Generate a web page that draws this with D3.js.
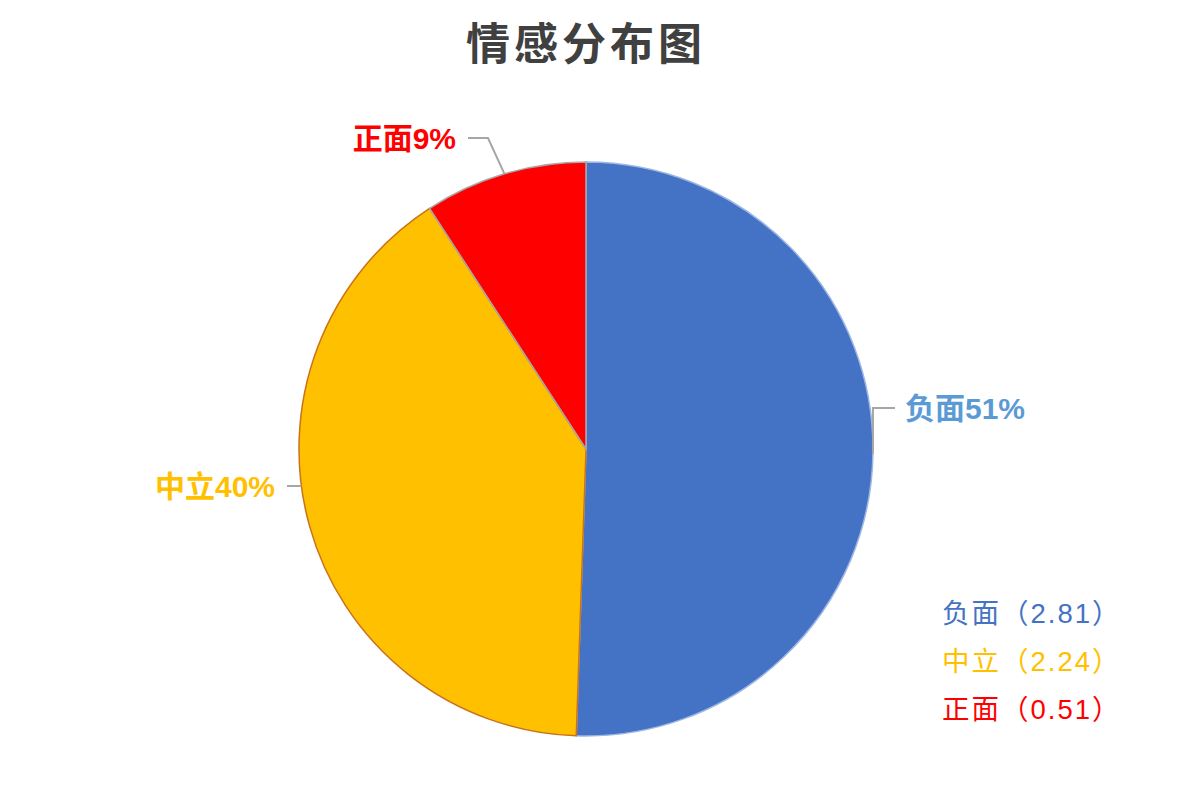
<!DOCTYPE html>
<html>
<head>
<meta charset="utf-8">
<script src="https://cdn.jsdelivr.net/npm/d3@7"></script>
<style>
    body { margin: 0; background: #fff; }
    svg { display: block; font-family: "Liberation Sans", "Noto Sans CJK SC", sans-serif; }
</style>
</head>
<body>
<svg class="chart-img"></svg>
<script>
// chart data
const categories = ['负面', '中立', '正面'];
const values = [2.81, 2.24, 0.51];
const colors = ['#4472C4', '#FFC000', '#FF0000'];
const labelColors = ['#5B9BD5', '#FFC000', '#FF0000'];
const edgeColors = ['#9DB6E4', '#C8731C', '#A8A8A8'];

const width = 1200, height = 798;
const cx = 586, cy = 449, radius = 287;

const chart = d3.select('.chart-img')
    .attr('width', width)
    .attr('height', height);

chart.append('text')
    .attr('x', cx)
    .attr('y', 60)
    .attr('text-anchor', 'middle')
    .attr('font-size', 44)
    .attr('font-weight', 'bold')
    .attr('letter-spacing', 4)
    .attr('fill', '#404040')
    .style('font-family', '"Noto Sans CJK SC", sans-serif')
    .text('情感分布图');

const total = d3.sum(values);
const pieData = d3.pie().sort(null).value(d => d)(values);
const arc = d3.arc().innerRadius(0).outerRadius(radius);
const pct = d3.format('.0%');

const g = chart.append('g').attr('transform', `translate(${cx}, ${cy})`);

g.selectAll('.slice')
    .data(pieData)
    .enter()
    .append('path')
    .classed('slice', true)
    .attr('d', arc)
    .attr('fill', (d, i) => colors[i])
    .attr('stroke', (d, i) => edgeColors[i])
    .attr('stroke-width', 1.5);

// label layout: offset of label text from centre, and anchor
const labelPos = [
    {x: 319, y: -41, anchor: 'start'},
    {x: -311, y: 37, anchor: 'end'},
    {x: -130, y: -311, anchor: 'end'}
];

const edgePoint = (d, i) => {
    const mid = (d.startAngle + d.endAngle) / 2;
    if (i === 1) {
        const yy = labelPos[i].y;
        return [-Math.sqrt(radius * radius - yy * yy), yy];
    }
    return [radius * Math.sin(mid), -radius * Math.cos(mid)];
};

pieData.forEach((d, i) => {
    const p = labelPos[i];
    const e = edgePoint(d, i);
    const gap = p.anchor === 'start' ? -10 : 12;
    const lx = p.x + gap;
    let pts;
    if (i === 0) {
        pts = [[lx, p.y], [e[0], p.y], e];
    } else if (i === 1) {
        pts = [[lx, p.y], e];
    } else {
        pts = [[lx, p.y], [lx + 20, p.y], e];
    }
    g.append('polyline')
        .attr('points', pts.map(q => q.join(',')).join(' '))
        .attr('fill', 'none')
        .attr('stroke', '#A6A6A6')
        .attr('stroke-width', 2);

    g.append('text')
        .attr('x', p.x)
        .attr('y', p.y)
        .attr('dy', '0.36em')
        .attr('text-anchor', p.anchor)
        .attr('font-size', 30)
        .attr('font-weight', 'bold')
        .attr('fill', labelColors[i])
        .text(categories[i] + pct(d.value / total));
});

// legend with raw values
const legend = chart.append('g').attr('transform', 'translate(942, 613)');
legend.selectAll('text')
    .data(categories)
    .enter()
    .append('text')
    .attr('x', 0)
    .attr('y', (d, i) => i * 48)
    .attr('dy', '0.36em')
    .attr('font-size', 27.5)
    .attr('letter-spacing', 2)
    .attr('fill', (d, i) => colors[i])
    .text((d, i) => `${d}（${values[i].toFixed(2)}）`);
</script>
</body>
</html>
